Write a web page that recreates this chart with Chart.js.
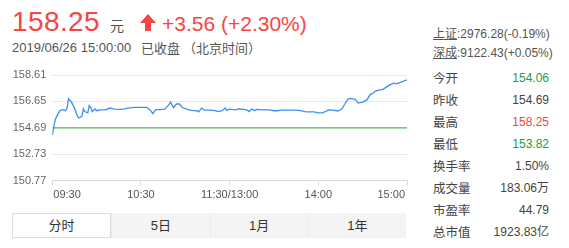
<!DOCTYPE html>
<html>
<head>
<meta charset="utf-8">
<script src="https://cdn.jsdelivr.net/npm/chart.js@4/dist/chart.umd.min.js"></script>
<style>
  html, body { margin: 0; padding: 0; background: #fff; }
  body { width: 569px; height: 248px; position: relative; overflow: hidden;
         font-family: "Liberation Sans", Arial, "Noto Sans CJK SC", sans-serif; color: #333; }
  .abs { position: absolute; white-space: nowrap; }
  .red { color: #f54545; }
  .green { color: #1a9e3f; }
  #price { left: 12px; top: 8px; font-size: 28px; line-height: 28px; letter-spacing: 0.4px; }
  #yuan { left: 110px; top: 17px; font-size: 14px; line-height: 16px; color: #555; font-family: "Noto Sans CJK SC", sans-serif; }
  #arrow { left: 139px; top: 13px; }
  #chg { left: 162px; top: 13px; font-size: 21px; line-height: 21px; }
  .sub { top: 40px; font-size: 13px; line-height: 16px; color: #555; }
  .idx { left: 433px; font-size: 12px; line-height: 16px; color: #555; }
  .idx u { font-family: "Noto Sans CJK SC", sans-serif; text-decoration-color: #555; }
  .lbl { left: 433px; font-size: 12.5px; line-height: 16px; color: #444; font-family: "Noto Sans CJK SC", sans-serif; }
  .val { right: 20px; font-size: 12px; line-height: 16px; color: #444; text-align: right; }
  .val.red { color: #f54545; }
  .val.green { color: #1a9e3f; }
  #tabs { left: 12px; top: 213px; width: 394px; height: 25px; display: flex; background: #f4f4f4; }
  #tabs div { flex: 1; text-align: center; font-size: 13px; line-height: 25px; color: #333;
              font-family: "Liberation Sans", "Noto Sans CJK SC", sans-serif; border-left: 1px solid #ebebeb; box-sizing: border-box; }
  #tabs div.on { background: #fff; border: 1px solid #ddd; line-height: 23px; }
  #wrap { position: absolute; left: 0; top: 60px; width: 415px; height: 145px; }
</style>
</head>
<body>
<div class="abs red" id="price">158.25</div>
<div class="abs" id="yuan">元</div>
<svg class="abs" id="arrow" width="18" height="19" viewBox="0 0 18 19">
  <polygon points="9,1 17,10 12,10 12,18 6,18 6,10 1,10" fill="#f54545"/>
</svg>
<div class="abs red" id="chg">+3.56 (+2.30%)</div>
<div class="abs sub" style="left:12px">2019/06/26 15:00:00</div>
<div class="abs sub" style="left:141px;font-family:'Noto Sans CJK SC',sans-serif">已收盘</div>
<div class="abs sub" style="left:183px;font-family:'Noto Sans CJK SC',sans-serif">（北京时间）</div>

<div class="abs idx" style="top:25px"><u>上证</u>:2976.28(-0.19%)</div>
<div class="abs idx" style="top:44px"><u>深成</u>:9122.43(+0.05%)</div>
<div id="stats"></div>

<div id="wrap"><canvas id="c"></canvas></div>

<div class="abs" id="tabs">
  <div class="on">分时</div><div>5日</div><div>1月</div><div>1年</div>
</div>

<script>
// intraday price, minutes since 09:30 (lunch break removed)
var minutes = [0, 2, 3, 5, 7, 9, 10, 11, 13, 15, 17, 18, 20, 21, 22, 24, 25, 26, 27, 29,
  30, 32, 36, 39, 42, 46, 49, 51, 56, 59, 64, 66, 68, 70, 73, 76, 79, 80, 82, 84,
  86, 88, 91, 94, 98, 99, 101, 103, 107, 110, 112, 115, 117, 118, 120, 124, 126, 129, 132, 133,
  135, 137, 138, 143, 147, 150, 152, 155, 161, 164, 168, 171, 173, 177, 180, 183, 187, 190, 193, 196,
  198, 200, 202, 205, 207, 210, 213, 215, 217, 219, 222, 224, 226, 228, 231, 233, 235, 237, 240];
var prices = [154.15, 155.30, 155.54, 155.96, 156.04, 155.96, 156.16, 156.85, 156.60, 156.16, 155.54, 155.43, 155.54, 156.10, 155.90, 155.80, 156.35, 156.20, 155.90, 156.10,
  155.96, 156.03, 156.03, 156.16, 156.08, 156.06, 156.10, 156.16, 156.21, 156.21, 156.21, 156.04, 155.74, 156.04, 156.04, 156.08, 156.41, 156.60, 156.20, 156.46,
  156.46, 156.20, 156.08, 155.98, 155.96, 155.87, 156.16, 156.00, 156.00, 155.96, 155.90, 155.96, 156.16, 155.98, 156.08, 156.03, 156.10, 156.08, 156.00, 155.90,
  156.08, 155.96, 156.06, 156.03, 156.03, 155.96, 155.96, 156.00, 156.00, 156.00, 155.96, 155.90, 155.87, 155.87, 155.80, 155.80, 156.02, 156.00, 155.94, 156.09,
  156.48, 156.83, 156.87, 156.80, 156.53, 156.60, 156.78, 157.14, 157.27, 157.44, 157.51, 157.56, 157.71, 157.86, 158.00, 157.95, 158.05, 158.12, 158.25];
var prevClose = 154.69;

var yTicks = [150.77, 152.73, 154.69, 156.65, 158.61];
var xTicks = [0, 60, 120, 180, 240];
var xTickLabels = ['09:30', '10:30', '11:30/13:00', '14:00', '15:00'];

var statLabels = ['今开', '昨收', '最高', '最低', '换手率', '成交量', '市盈率', '总市值'];
var statValues = ['154.06', '154.69', '158.25', '153.82', '1.50%', '183.06万', '44.79', '1923.83亿'];
var statColors = ['green', '', 'red', 'green', '', '', '', ''];

var statsEl = document.getElementById('stats');
statLabels.forEach(function (l, i) {
    var top = 69.5 + 22 * i;
    statsEl.insertAdjacentHTML('beforeend',
        '<div class="abs lbl" style="top:' + top + 'px">' + l + '</div>' +
        '<div class="abs val ' + statColors[i] + '" style="top:' + top + 'px">' + statValues[i] + '</div>');
});

// x labels: first left aligned, last right aligned, rest centered
var xLabelPlugin = {
    id: 'xLabels',
    afterDraw: function (chart) {
        var ctx = chart.ctx, sx = chart.scales.x, y = chart.chartArea.bottom + 14;
        ctx.save();
        ctx.font = '11px "Liberation Sans", Arial, sans-serif';
        ctx.fillStyle = '#555';
        ctx.textBaseline = 'middle';
        xTicks.forEach(function (v, i) {
            var px = sx.getPixelForValue(v);
            ctx.textAlign = i === 0 ? 'left' : (i === xTicks.length - 1 ? 'right' : 'center');
            ctx.fillText(xTickLabels[i], i === 0 ? px + 1 : (i === xTicks.length - 1 ? px - 2 : px), y);
        });
        ctx.restore();
    }
};

new Chart(document.getElementById('c'), {
    type: 'line',
    data: {
        datasets: [{
            data: minutes.map(function (m, i) { return {x: m, y: prices[i]}; }),
            borderColor: '#3d8ff7',
            borderWidth: 1.3,
            pointRadius: 0,
            tension: 0
        }, {
            data: [{x: 0, y: prevClose}, {x: 240, y: prevClose}],
            borderColor: '#5cb85c',
            borderWidth: 1.2,
            pointRadius: 0
        }]
    },
    options: {
        responsive: true,
        maintainAspectRatio: false,
        animation: false,
        layout: {padding: {top: 15, right: 8, left: 0, bottom: 0}},
        plugins: {legend: {display: false}, tooltip: {enabled: false}},
        scales: {
            x: {
                type: 'linear', min: 0, max: 240,
                afterBuildTicks: function (s) { s.ticks = xTicks.map(function (v) { return {value: v}; }); },
                afterFit: function (s) { s.height = 24.3; },
                ticks: {display: false},
                grid: {drawOnChartArea: false, drawTicks: true, tickLength: 5, color: '#dcdcdc'},
                border: {display: true, color: '#dcdcdc'}
            },
            y: {
                min: yTicks[0], max: yTicks[yTicks.length - 1],
                afterBuildTicks: function (s) { s.ticks = yTicks.map(function (v) { return {value: v}; }); },
                afterFit: function (s) { s.width = 52.3; },
                ticks: {
                    padding: 6,
                    color: '#666',
                    font: {size: 11, family: '"Liberation Sans", Arial, sans-serif'},
                    callback: function (v, i) { return yTicks[i].toFixed(2); }
                },
                grid: {drawTicks: false, color: '#e8e8e8'},
                border: {display: false}
            }
        }
    },
    plugins: [xLabelPlugin]
});
</script>
</body>
</html>
